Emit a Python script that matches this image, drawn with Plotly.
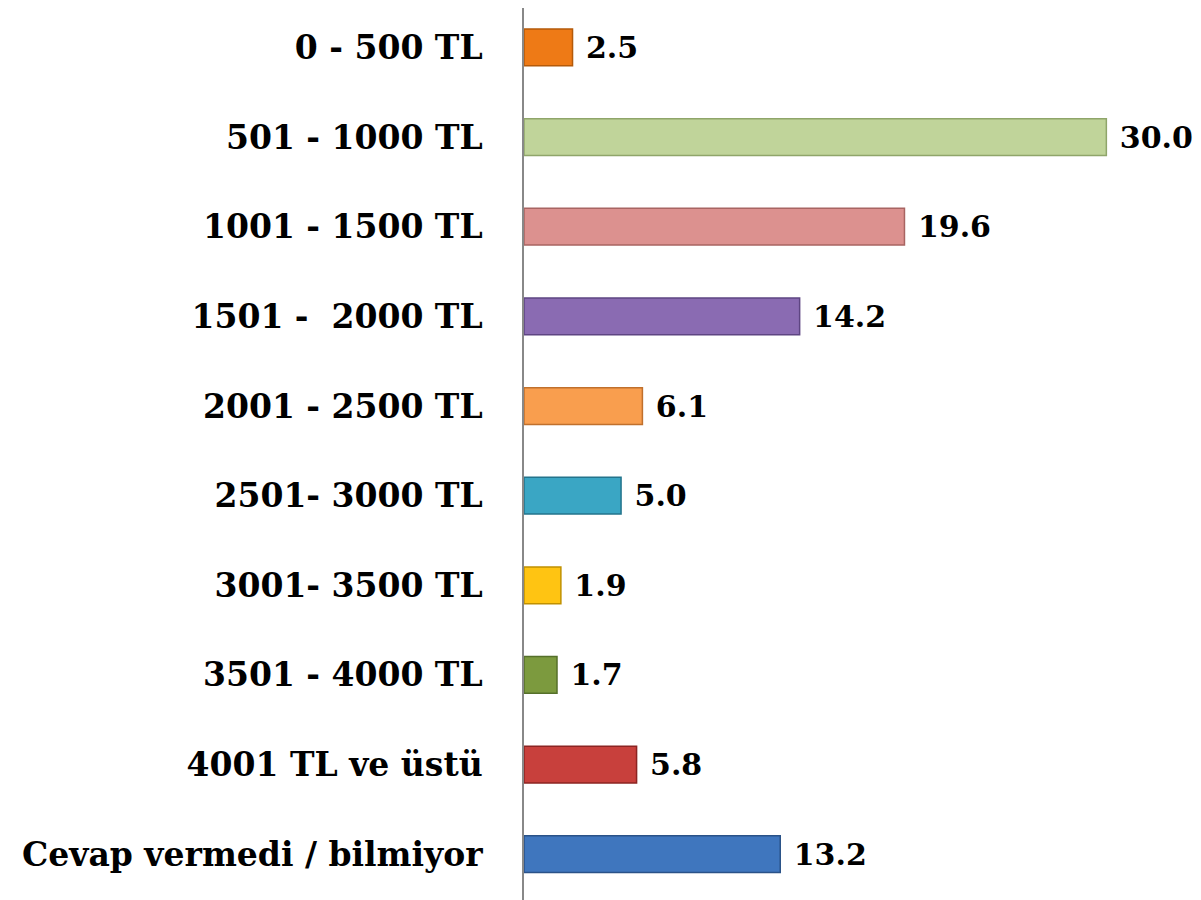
import plotly.graph_objects as go

categories = ["0 - 500 TL", "501 - 1000 TL", "1001 - 1500 TL", "1501 -  2000 TL",
              "2001 - 2500 TL", "2501- 3000 TL", "3001- 3500 TL", "3501 - 4000 TL",
              "4001 TL ve üstü", "Cevap vermedi / bilmiyor"]
values = [2.5, 30.0, 19.6, 14.2, 6.1, 5.0, 1.9, 1.7, 5.8, 13.2]
fill_colors = ["#EE7A16", "#C0D49A", "#DC918F", "#8A6BB2", "#F99E4E",
               "#3AA6C4", "#FFC412", "#7C9A3E", "#C8403C", "#3F76BE"]
edge_colors = ["#B45A0A", "#8FA56A", "#A86462", "#5E4582", "#C0702C",
               "#23748C", "#C09000", "#55702A", "#8C2422", "#2A5288"]

fig = go.Figure()
fig.add_trace(go.Bar(
    y=categories, x=values, orientation="h",
    marker=dict(color=fill_colors, line=dict(color=edge_colors, width=1.5)),
    text=["\u00a0" + f"{v:.1f}" for v in values], textposition="outside",
    textfont=dict(family="DejaVu Serif", size=30, color="black", weight="bold"),
    constraintext="none",
    cliponaxis=False, width=0.41,
))
fig.update_layout(
    width=1201, height=900,
    margin=dict(l=516, r=25, t=0, b=0, autoexpand=False),
    plot_bgcolor="white", paper_bgcolor="white",
    showlegend=False,
    xaxis=dict(range=[0, 34], showgrid=False, showticklabels=False, zeroline=False,
               showline=False, automargin=False),
    yaxis=dict(categoryorder="array", categoryarray=categories, range=[9.6, -0.44],
               showline=True, linecolor="#888888", linewidth=1.5, automargin=False,
               ticks="", ticklabelstandoff=33,
               tickfont=dict(family="DejaVu Serif", size=33, color="black", weight="bold")),
    font=dict(family="DejaVu Serif"),
)
fig.write_html("out.html")
